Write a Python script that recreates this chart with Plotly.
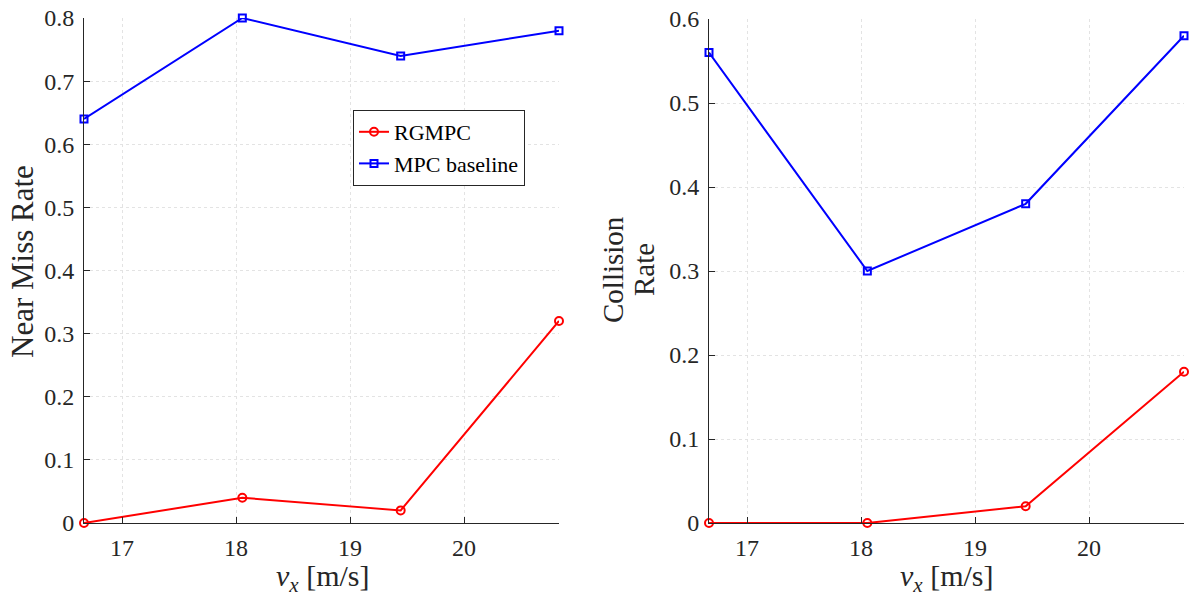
import plotly.graph_objects as go

# Longitudinal speed (60, 65, 70, 75 km/h expressed in m/s)
speed = [60 / 3.6, 65 / 3.6, 70 / 3.6, 75 / 3.6]

near_miss_rgmpc = [0.0, 0.04, 0.02, 0.32]
near_miss_mpc = [0.64, 0.80, 0.74, 0.78]

collision_rgmpc = [0.0, 0.0, 0.02, 0.18]
collision_mpc = [0.56, 0.30, 0.38, 0.58]

x_ticks = [17, 18, 19, 20]

W, H = 1191, 596
FONT = "Liberation Serif"
RED = "#ff0000"
BLUE = "#0000ff"
AXIS = "#262626"
GRID = "#e3e3e3"


def series(x, y, name, color, symbol, size, xa, ya, show):
    return go.Scatter(
        x=x, y=y, name=name, mode="lines+markers",
        line=dict(color=color, width=2),
        marker=dict(symbol=symbol, size=size, color=color,
                    line=dict(color=color, width=2)),
        xaxis=xa, yaxis=ya, showlegend=show, cliponaxis=False,
    )


fig = go.Figure()
fig.add_trace(series(speed, near_miss_rgmpc, "RGMPC", RED, "circle-open", 8, "x", "y", True))
fig.add_trace(series(speed, near_miss_mpc, "MPC baseline", BLUE, "square-open", 7, "x", "y", True))
fig.add_trace(series(speed, collision_rgmpc, "RGMPC", RED, "circle-open", 8, "x2", "y2", False))
fig.add_trace(series(speed, collision_mpc, "MPC baseline", BLUE, "square-open", 7, "x2", "y2", False))


def px_x(p):
    return p / W


def px_y(p):
    return 1 - p / H


def axis_style(standoff):
    return dict(
        ticks="inside", ticklen=6, tickcolor=AXIS,
        showline=True, linecolor=AXIS, linewidth=1,
        showgrid=True, gridcolor=GRID, griddash="dot", gridwidth=1,
        zeroline=False, automargin=False, ticklabelstandoff=standoff,
        tickfont=dict(family=FONT, size=24, color=AXIS),
    )


def label(text, x, y, size, angle=0):
    return dict(text=text, x=px_x(x), y=px_y(y), textangle=angle,
                xanchor="center", yanchor="middle",
                xref="paper", yref="paper", showarrow=False,
                font=dict(family=FONT, size=size, color=AXIS))


fig.update_layout(
    width=W, height=H,
    margin=dict(l=0, r=0, t=0, b=0, autoexpand=False),
    paper_bgcolor="white", plot_bgcolor="white",
    font=dict(family=FONT, color=AXIS, size=24),
    xaxis=dict(domain=[px_x(84), px_x(559)], anchor="y", range=[speed[0], speed[-1]],
               tickvals=x_ticks, **axis_style(3)),
    yaxis=dict(domain=[px_y(523), px_y(18)], range=[0, 0.8], anchor="x",
               dtick=0.1, tick0=0, **axis_style(4)),
    xaxis2=dict(domain=[px_x(709), px_x(1184)], anchor="y2", range=[speed[0], speed[-1]],
                tickvals=x_ticks, **axis_style(3)),
    yaxis2=dict(domain=[px_y(523), px_y(19)], range=[0, 0.6], anchor="x2",
                dtick=0.1, tick0=0, **axis_style(4)),
    legend=dict(
        x=px_x(353), y=px_y(110), xanchor="left", yanchor="top",
        bgcolor="white", bordercolor=AXIS, borderwidth=1,
        font=dict(family=FONT, size=22, color="black"),
        itemwidth=30, tracegroupgap=0,
    ),
    annotations=[
        label("<i>v</i><sub><i>x</i></sub> [m/s]", 322, 578, 30),
        label("<i>v</i><sub><i>x</i></sub> [m/s]", 946, 578, 30),
        label("Near Miss Rate", 22, 262, 31, -90),
        label("Collision", 613, 270, 29, -90),
        label("Rate", 644, 270, 29, -90),
    ],
)

fig.write_html("out.html")
